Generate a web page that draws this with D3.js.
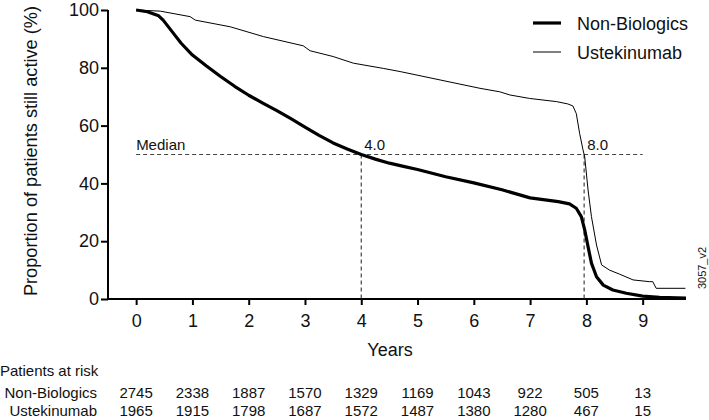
<!DOCTYPE html>
<html><head><meta charset="utf-8">
<script src="https://cdn.jsdelivr.net/npm/d3@7"></script>
<style>body{margin:0;background:#fff}svg{display:block}text{font-family:"Liberation Sans",Arial,Helvetica,sans-serif;fill:#111}</style>
</head><body><svg id="c" width="709" height="420"></svg>
<script>
const nbTime  = [0, 0.2, 0.4, 0.48, 0.66, 0.8, 1.0, 1.25, 1.5, 1.75, 2.0, 2.25, 2.5, 2.75, 3.0, 3.25, 3.5, 3.75, 4.0, 4.25, 4.5, 4.75, 5.0, 5.5, 6.0, 6.5, 7.0, 7.5, 7.7, 7.82, 7.91, 7.97, 8.03, 8.09, 8.18, 8.3, 8.47, 8.71, 9.0, 9.3, 9.77];
const nbValue = [100, 99.4, 98, 96.5, 92, 88.5, 84.4, 80.6, 77.0, 73.6, 70.5, 67.8, 65.2, 62.4, 59.5, 56.6, 54.0, 51.9, 50, 48.4, 47.0, 45.9, 44.8, 42.3, 40.2, 37.8, 35, 33.7, 32.9, 31.4, 28.5, 23.9, 18.1, 12.4, 7.7, 4.8, 3.1, 2.0, 1.0, 0.6, 0.3];
const ustTime  = [0, 0.43, 0.96, 1.05, 1.67, 2.26, 2.97, 3.09, 3.5, 3.86, 4.39, 4.69, 5.4, 6.11, 6.46, 6.64, 6.99, 7.47, 7.67, 7.76, 7.82, 7.88, 7.94, 7.97, 8.03, 8.09, 8.18, 8.27, 8.41, 8.59, 8.83, 9.12, 9.18, 9.24, 9.76];
const ustValue = [100, 99.6, 97.7, 96.5, 94.2, 90.8, 87.6, 85.9, 83.9, 81.6, 79.8, 78.7, 75.8, 72.9, 71.7, 70.6, 69.4, 68.3, 67.5, 66.8, 64.2, 57.3, 51.6, 49.2, 37.7, 28.5, 18.7, 11.8, 10.0, 8.6, 6.6, 6.0, 6.0, 3.7, 3.7];
const seriesNames = ["Non-Biologics", "Ustekinumab"];
const xTicks = [0,1,2,3,4,5,6,7,8,9];
const yTicks = [0,20,40,60,80,100];
const riskNB  = [2745, 2338, 1887, 1570, 1329, 1169, 1043, 922, 505, 13];
const riskUst = [1965, 1915, 1798, 1687, 1572, 1487, 1380, 1280, 467, 15];
const medianLevel = 50;
const medians = [4.0, 7.96];
const medianLabels = ["4.0", "8.0"];

const svg = d3.select("#c");
const x = d3.scaleLinear().domain([-0.5, 9.77]).range([108, 686]);
const y = d3.scaleLinear().domain([0, 100]).range([299, 10]);

// axes
const gy = svg.append("g").attr("transform","translate(108,0)")
  .call(d3.axisLeft(y).tickValues(yTicks).tickSize(7).tickPadding(2));
const gx = svg.append("g").attr("transform","translate(0,299)")
  .call(d3.axisBottom(x).tickValues(xTicks).tickSize(6).tickPadding(9));
[gy,gx].forEach(g=>{
  g.selectAll("path.domain").attr("stroke","#000").attr("stroke-width",2);
  g.selectAll(".tick line").attr("stroke","#000").attr("stroke-width",2);
  g.selectAll(".tick text").attr("font-size",18).attr("fill","#111")
    .attr("font-family","'Liberation Sans',Arial,sans-serif");
});
gy.select("path.domain").attr("d","M0,10V299");
gx.select("path.domain").attr("d","M108,0H686");

// median lines
svg.append("line").attr("x1",x(0)).attr("x2",x(9)).attr("y1",y(medianLevel)).attr("y2",y(medianLevel))
  .attr("stroke","#444").attr("stroke-width",1.2).attr("stroke-dasharray","4,3");
medians.forEach((m,i)=>{
  svg.append("line").attr("x1",x(m)).attr("x2",x(m)).attr("y1",y(medianLevel)).attr("y2",y(0))
    .attr("stroke","#444").attr("stroke-width",1.2).attr("stroke-dasharray","4,3");
  svg.append("text").attr("x",x(m)+3).attr("y",y(medianLevel)-5).attr("font-size",15).text(medianLabels[i]);
});
svg.append("text").attr("x",x(0)).attr("y",y(medianLevel)-5).attr("font-size",15).text("Median");

// curves
const line = d3.line().x(d=>x(d[0])).y(d=>y(d[1]));
const nb = nbTime.map((t,i)=>[t,nbValue[i]]);
const us = ustTime.map((t,i)=>[t,ustValue[i]]);
svg.append("path").attr("d",line(us)).attr("fill","none").attr("stroke","#000").attr("stroke-width",1);
svg.append("path").attr("d",line(nb)).attr("fill","none").attr("stroke","#000").attr("stroke-width",3.2).attr("stroke-linejoin","round");

// legend
const legW=[3.2,1];
seriesNames.forEach((n,i)=>{
  const ly = 23 + i*29;
  svg.append("line").attr("x1",533).attr("x2",561).attr("y1",ly).attr("y2",ly).attr("stroke","#000").attr("stroke-width",legW[i]);
  svg.append("text").attr("x",577).attr("y",ly+6.5).attr("font-size",18).text(n);
});

// axis titles
svg.append("text").attr("transform","translate(37,151) rotate(-90)").attr("text-anchor","middle").attr("font-size",18.2)
  .text("Proportion of patients still active (%)");
svg.append("text").attr("x",390).attr("y",356).attr("text-anchor","middle").attr("font-size",18).text("Years");
svg.append("text").attr("transform","translate(706,268) rotate(-90)").attr("text-anchor","middle").attr("font-size",11).text("3057_v2");

// risk table
const nar = "'Liberation Sans Narrow','Arial Narrow','Liberation Sans',sans-serif";
svg.append("text").attr("x",0).attr("y",376).attr("font-size",15).attr("font-family",nar).text("Patients at risk");
[[seriesNames[0],riskNB,398],[seriesNames[1],riskUst,416]].forEach(([n,vals,ry])=>{
  svg.append("text").attr("x",97).attr("y",ry).attr("text-anchor","end").attr("font-size",15).attr("font-family",nar).text(n);
  svg.selectAll(null).data(vals).enter().append("text")
    .attr("x",(d,i)=>x(xTicks[i])).attr("y",ry).attr("text-anchor","middle").attr("font-size",15).attr("font-family",nar).text(d=>d);
});
</script></body></html>
